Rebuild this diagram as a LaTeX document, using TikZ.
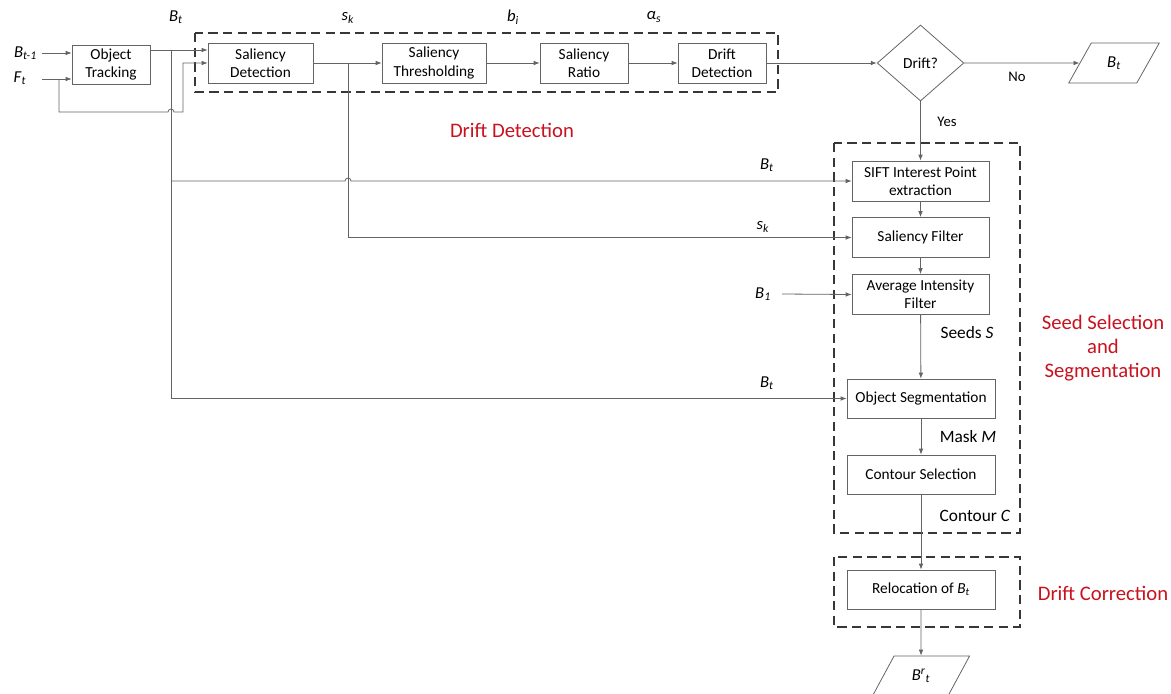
\documentclass[tikz,border=0pt]{standalone}
\usepackage{fontspec}
\setmainfont{Carlito}
\usetikzlibrary{shapes.geometric,arrows.meta}
\definecolor{ddred}{RGB}{200,18,30}
\definecolor{lncol}{RGB}{100,100,100}
\definecolor{grpcol}{RGB}{55,55,55}
\newcommand{\sym}[2]{\textit{#1}\textsubscript{\textit{#2}}}
\tikzset{
  box/.style={draw=lncol,line width=0.6pt,fill=white,align=center,
    minimum height=30pt,inner sep=1pt,
    font=\fontsize{11.5}{13.7}\selectfont},
  iobox/.style={draw=lncol,line width=0.6pt,trapezium,
    trapezium left angle=63,trapezium right angle=117,
    trapezium stretches=true,minimum height=30pt,inner sep=1pt,
    font=\fontsize{12.5}{14}\selectfont},
  sig/.style={font=\fontsize{12.5}{14}\selectfont},
  note/.style={font=\fontsize{13}{15}\selectfont},
  yn/.style={font=\fontsize{11}{13}\selectfont},
  grplabel/.style={text=ddred,align=center,font=\fontsize{15.5}{18}\selectfont},
  grp/.style={draw=grpcol,line width=1.1pt,dash pattern=on 7pt off 4pt},
  conn/.style={draw=lncol,line width=0.6pt}
}
\begin{document}
\begin{tikzpicture}[x=0.75pt,y=-0.75pt,>={Latex[length=4.5pt,width=3.5pt]}]
\useasboundingbox (0,0) rectangle (1171,693);
% group frames
\draw[grp] (195,33) rectangle (778,92);
\draw[grp] (834,143) rectangle (1020,533);
\draw[grp] (834,557) rectangle (1020,627);
\node[grplabel] (gdet) at (512,130) {Drift Detection};
\node[grplabel] (gseed) at (1103,348) {Seed Selection\\and\\Segmentation};
\node[grplabel] (gcorr) at (1103,593) {Drift Correction};

% drift detection chain
\node[box,minimum width=58.5pt,minimum height=29.25pt] (track) at (111,64.5) {Object\\Tracking};
\node[box,minimum width=78.75pt] (sal) at (260.5,63) {Saliency\\Detection};
\node[box,minimum width=78pt] (thr) at (434,63) {Saliency\\Thresholding};
\node[box,minimum width=66pt] (ratio) at (584,63) {Saliency\\Ratio};
\node[box,minimum width=66pt] (ddet) at (722,63) {Drift\\Detection};
\node[draw=lncol,line width=0.6pt,diamond,aspect=1.14,inner sep=0pt,
  minimum width=65pt,minimum height=57pt,
  font=\fontsize{11.5}{13.7}\selectfont] (drift) at (920.5,63) {Drift?};
\node[iobox,minimum width=68pt] (out1) at (1114,63) {\sym{B}{t}};

% seed selection and segmentation chain
\node[box,minimum width=102.75pt] (sift) at (920.5,181) {SIFT Interest Point\\extraction};
\node[box,minimum width=102.75pt] (salf) at (920.5,237.5) {Saliency Filter};
\node[box,minimum width=102.75pt] (avg) at (920.5,294.5) {Average Intensity\\Filter};
\node[box,minimum width=111pt,minimum height=29.25pt] (seg) at (921,398.5) {Object Segmentation};
\node[box,minimum width=111pt,minimum height=29.25pt] (cont) at (921,474.5) {Contour Selection};
\node[box,minimum width=111pt,minimum height=29.25pt] (reloc) at (921,589.5) {Relocation of \sym{B}{t}};
\node[iobox,minimum width=73pt] (out2) at (921,676) {\textit{B}\textsuperscript{\textit{r}}\textsubscript{\textit{t}}};

% signal labels
\node[sig] (lBprev) at (25.5,53) {\sym{B}{t-1}};
\node[sig] (lFt) at (20,78) {\sym{F}{t}};
\node[sig] (lBt) at (176,17) {\sym{B}{t}};
\node[sig] (lsk) at (348,18) {\sym{s}{k}};
\node[sig] (lbi) at (513,17) {\sym{b}{i}};
\node[sig] (las) at (654,17) {\sym{α}{s}};
\node[sig] (lBt2) at (767,165) {\sym{B}{t}};
\node[sig] (lsk2) at (763,227) {\sym{s}{k}};
\node[sig] (lB1) at (763,294) {\sym{B}{1}};
\node[sig] (lBt3) at (767,383) {\sym{B}{t}};
\node[yn] (lno) at (1017,77) {No};
\node[yn] (lyes) at (947,122) {Yes};
\node[note] (lseeds) at (967,333) {Seeds \textit{S}};
\node[note] (lmask) at (968,437) {Mask \textit{M}};
\node[note] (lcont) at (975,516) {Contour \textit{C}};

% connectors
\coordinate (inB) at (42,53);
\coordinate (inF) at (42,79);
\coordinate (fbr) at (59,79);
\coordinate (btr) at (171,50);
\coordinate (skr) at (348,63);
\coordinate (inB1) at (782,294);
\draw[conn,->] (inB) -- (inB -| track.west);
\draw[conn,->] (inF) -- (inF -| track.west);
\draw[conn,->] (fbr) -- (59,112) -- (168,112)
  arc[start angle=180,end angle=0,radius=2.25pt] -- (183,112) -- (183,63) -- (sal.west);
\draw[conn,->] (btr -| track.east) -- (btr -| sal.west);
\draw[conn,->] (btr) -- (171,398.5) -- (seg.west);
\draw[conn,->] (171,181) -- (345,181)
  arc[start angle=180,end angle=0,radius=2.25pt] -- (sift.west);
\draw[conn,->] (sal) -- (thr);
\draw[conn,->] (skr) -- (348,237.5) -- (salf.west);
\draw[conn,->] (thr) -- (ratio);
\draw[conn,->] (ratio) -- (ddet);
\draw[conn,->] (ddet) -- (drift);
\draw[conn,->] (drift.east) -- (out1.west);
\draw[conn,->] (drift.south) -- (sift.north);
\draw[conn,->] (sift) -- (salf);
\draw[conn,->] (salf) -- (avg);
\draw[conn,->] (inB1) -- (avg.west);
\draw[conn,->] (avg) -- (seg);
\draw[conn,->] (seg) -- (cont);
\draw[conn,->] (cont) -- (reloc);
\draw[conn,->] (reloc) -- (out2.north);
\end{tikzpicture}
\end{document}
